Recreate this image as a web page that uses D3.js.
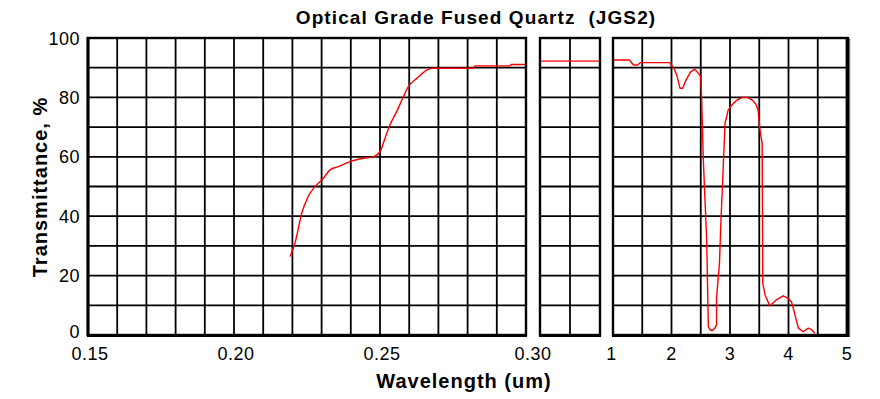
<!DOCTYPE html>
<html lang="en">
  <head>
    <meta charset="UTF-8" />
    <title>Optical Grade Fused Quartz (JGS2)</title>
    <script src="https://cdnjs.cloudflare.com/ajax/libs/d3/7.8.5/d3.min.js"></script>
    <style>
      html,
      body {
        margin: 0;
        background: #fff;
        font-family: "Liberation Sans", Arial, sans-serif;
      }
      .tick-label {
        font-size: 18px;
        letter-spacing: 0.5px;
        fill: #000;
      }
      .title,
      .axis-title {
        font-weight: bold;
        fill: #000;
      }
    </style>
  </head>
  <body>
    <div id="chart"></div>
    <script>
      // UV part 0.15 - 0.30 um
      const uvWavelength = [0.2192, 0.2209, 0.2232, 0.2254, 0.2277, 0.2306, 0.2329, 0.2357, 0.2397, 0.2443, 0.2477, 0.25, 0.2517, 0.2534, 0.2557, 0.258, 0.2597, 0.2626, 0.2677, 0.282, 0.2825, 0.2945, 0.295, 0.3];
      const uvTransmittance = [26.4, 31, 41, 46.6, 49.9, 52.8, 55.6, 56.7, 58.4, 59.5, 60, 61.7, 66.2, 70.7, 75.2, 80.2, 83.6, 86.4, 89.8, 89.8, 90.6, 90.6, 91.1, 91.1];

      // visible part, squeezed
      const visWavelength = [0.3, 1.0];
      const visTransmittance = [92.2, 92.2];

      // IR part 1 - 5 um
      const irWavelength = [1.0, 1.28, 1.35, 1.415, 1.47, 1.97, 2.04, 2.09, 2.145, 2.19, 2.25, 2.33, 2.4, 2.46, 2.5, 2.516, 2.544, 2.6, 2.63, 2.66, 2.7, 2.74, 2.77, 2.77, 2.82, 2.846, 2.875, 2.915, 2.944, 2.97, 3.03, 3.12, 3.21, 3.3, 3.38, 3.44, 3.48, 3.513, 3.55, 3.56, 3.6, 3.68, 3.79, 3.91, 3.99, 4.05, 4.09, 4.14, 4.17, 4.25, 4.34, 4.4, 4.45];
      const irTransmittance = [92.6, 92.6, 90.9, 90.9, 91.7, 91.7, 89.8, 87.5, 83.1, 83.1, 85.9, 88.7, 89.5, 88.1, 87, 79.1, 58.9, 32.7, 2.8, 1.7, 1.5, 2.3, 3.4, 12.5, 24.2, 38.7, 52, 71.3, 73.5, 75.8, 77.4, 79.1, 80, 80, 79.1, 77.8, 75.8, 69, 64.6, 17.4, 13.5, 9.8, 11.8, 13.2, 12.4, 11.2, 8.4, 4.5, 2.3, 1.1, 2.3, 1.7, 0.6];

      const yTicks = [0, 20, 40, 60, 80, 100];
      const uvTickLabels = ["0.15", "0.20", "0.25"];
      const irTickLabels = ["1", "2", "3", "4", "5"];

      const options = {
        width: 880,
        height: 399,
        top: 38,
        bottom: 335,
        color: "#ff0000",
        lineWidth: 1.4,
      };

      const panels = [
        { domain: [0.15, 0.3], range: [88, 526], step: 0.01, wl: uvWavelength, t: uvTransmittance, curve: d3.curveMonotoneX },
        { domain: [0.3, 1.0], range: [540, 600], step: 0.35, wl: visWavelength, t: visTransmittance, curve: d3.curveLinear },
        { domain: [1, 5], range: [613, 847], step: 0.5, wl: irWavelength, t: irTransmittance, curve: d3.curveLinear },
      ];

      const svg = d3
        .select("#chart")
        .append("svg")
        .attr("width", options.width)
        .attr("height", options.height);

      const y = d3.scaleLinear().domain([0, 100]).range([options.bottom, options.top]);

      panels.forEach((p, idx) => {
        p.x = d3.scaleLinear().domain(p.domain).range(p.range);
        const g = svg.append("g");

        // vertical grid
        const n = Math.round((p.domain[1] - p.domain[0]) / p.step);
        const vx = d3.range(1, n).map((i) => p.domain[0] + i * p.step);
        g.selectAll(".vgrid")
          .data(vx)
          .join("line")
          .attr("x1", (d) => p.x(d))
          .attr("x2", (d) => p.x(d))
          .attr("y1", y(100))
          .attr("y2", y(0))
          .attr("stroke", "#000")
          .attr("stroke-width", 1.8);

        // horizontal grid
        g.selectAll(".hgrid")
          .data(d3.range(10, 100, 10))
          .join("line")
          .attr("x1", p.range[0])
          .attr("x2", p.range[1])
          .attr("y1", (d) => y(d))
          .attr("y2", (d) => y(d))
          .attr("stroke", "#000")
          .attr("stroke-width", 1.8);

        // curve
        const line = d3
          .line()
          .x((d, i) => p.x(p.wl[i]))
          .y((d) => y(d))
          .curve(p.curve);
        g.append("path")
          .datum(p.t)
          .attr("fill", "none")
          .attr("stroke", options.color)
          .attr("stroke-width", options.lineWidth)
          .attr("stroke-linejoin", "round")
          .attr("d", line);

        // shadow on the last panel
        if (idx === 2) {
          g.append("line")
            .attr("x1", p.range[1] + 2.5)
            .attr("x2", p.range[1] + 2.5)
            .attr("y1", y(100) + 1)
            .attr("y2", y(0) + 2)
            .attr("stroke", "#888")
            .attr("stroke-width", 1.5);
        }

        // frame
        g.append("rect")
          .attr("x", p.range[0])
          .attr("y", y(100))
          .attr("width", p.range[1] - p.range[0])
          .attr("height", y(0) - y(100))
          .attr("fill", "none")
          .attr("stroke", "#000")
          .attr("stroke-width", 2.4);
      });

      // thicker left and bottom edges like the original
      svg.append("line")
        .attr("x1", 88).attr("x2", 88)
        .attr("y1", y(100) - 1).attr("y2", y(0) + 1)
        .attr("stroke", "#000").attr("stroke-width", 3);
      panels.forEach((p, idx) => {
        svg.append("line")
          .attr("x1", p.range[0] - 1).attr("x2", p.range[1] + (idx === 2 ? 2 : 1))
          .attr("y1", y(0) + 0.5).attr("y2", y(0) + 0.5)
          .attr("stroke", "#000").attr("stroke-width", 3);
      });
      svg.append("line")
        .attr("x1", 847.5).attr("x2", 847.5)
        .attr("y1", y(100) - 1).attr("y2", y(0) + 2)
        .attr("stroke", "#000").attr("stroke-width", 3.5);

      // y tick labels ("0" sits a little higher, as in the original)
      svg.selectAll(".ylab")
        .data(yTicks)
        .join("text")
        .attr("class", "tick-label")
        .attr("x", 80)
        .attr("y", (d) => y(d) + (d === 0 ? -3.5 : 0.5))
        .attr("text-anchor", "end")
        .attr("dominant-baseline", "central")
        .text((d) => d);

      // x tick labels
      const uv = panels[0].x;
      const ir = panels[2].x;
      const xLabels = uvTickLabels
        .map((t) => ({ text: t, x: uv(+t) + 2 }))
        .concat([{ text: "0.30", x: (panels[0].range[1] + panels[1].range[0]) / 2 }])
        .concat(irTickLabels.map((t) => ({ text: t, x: ir(+t) - (t === "1" ? 1.5 : 0) })));
      svg.selectAll(".xlab")
        .data(xLabels)
        .join("text")
        .attr("class", "tick-label")
        .attr("x", (d) => d.x)
        .attr("y", 353.5)
        .attr("text-anchor", "middle")
        .attr("dominant-baseline", "central")
        .text((d) => d.text);

      // titles
      svg.append("text")
        .attr("class", "title")
        .attr("x", 476)
        .attr("y", 24)
        .attr("text-anchor", "middle")
        .style("font-size", "19px")
        .style("letter-spacing", "1.1px")
        .style("white-space", "pre")
        .text("Optical Grade Fused Quartz  (JGS2)");

      svg.append("text")
        .attr("class", "axis-title")
        .attr("x", 464)
        .attr("y", 388)
        .attr("text-anchor", "middle")
        .style("font-size", "20px")
        .style("letter-spacing", "1px")
        .text("Wavelength (um)");

      svg.append("text")
        .attr("class", "axis-title")
        .attr("transform", "translate(47,187) rotate(-90)")
        .attr("text-anchor", "middle")
        .style("font-size", "20px")
        .style("letter-spacing", "1px")
        .text("Transmittance, %");
    </script>
  </body>
</html>
